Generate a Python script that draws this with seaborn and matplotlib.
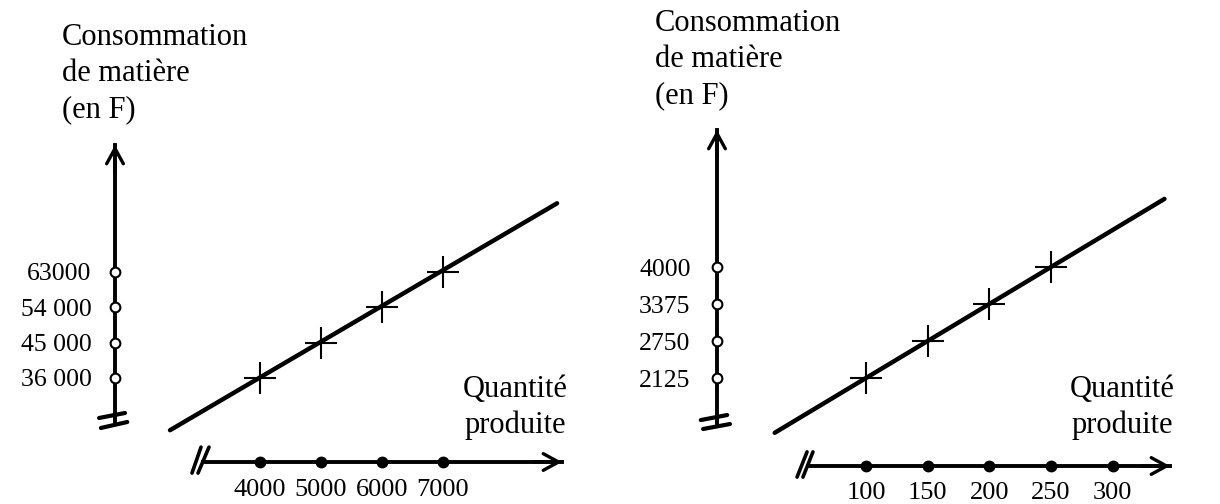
import matplotlib
matplotlib.use("Agg")
import matplotlib.pyplot as plt
import seaborn as sns

sns.set_theme(style="white")
plt.rcParams['font.family'] = ['Liberation Serif', 'DejaVu Serif']
plt.rcParams['text.color'] = 'black'

qty_1 = [4000, 5000, 6000, 7000]
cost_1 = [36000, 45000, 54000, 63000]
ylabels_1 = ["36 000", "45 000", "54 000", "63000"]
xlabels_1 = ["4000", "5000", "6000", "7000"]
trend_x_1 = [2525, 8870]
trend_y_1 = [22700, 80500]

qty_2 = [100, 150, 200, 250]
cost_2 = [2125, 2750, 3375, 4000]
xticks_2 = [100, 150, 200, 250, 300]
ylabels_2 = ["2125", "2750", "3375", "4000"]
xlabels_2 = ["100", "150", "200", "250", "300"]
trend_x_2 = [26, 342]
trend_y_2 = [1200, 5150]

W, H = 1220, 504
fig = plt.figure(figsize=(12.2, 5.04), dpi=100)


def px_axes(left, right, top, bottom):
    return fig.add_axes([left / W, (H - bottom) / H, (right - left) / W, (bottom - top) / H])


def draw_panel(ax, xt, xl, yt, yl, pts_x, pts_y, tx, ty, xlim, ylim,
               xbound, ybound, ybreak, xbreak, ypad, xpad):
    ax.set_xlim(xlim)
    ax.set_ylim(ylim)
    sns.lineplot(x=tx, y=ty, color="black", linewidth=3.2, ax=ax)
    sns.scatterplot(x=pts_x, y=pts_y, marker="+", s=560, color="black",
                    linewidth=1.5, ax=ax, zorder=5)

    for s in ["top", "right"]:
        ax.spines[s].set_visible(False)
    for s in ["left", "bottom"]:
        ax.spines[s].set_color("black")
        ax.spines[s].set_linewidth(2.8)
    ax.spines["left"].set_bounds(ybound, ylim[1])
    ax.spines["bottom"].set_bounds(xbound[0], xbound[1])

    ax.set_xticks(xt, xl)
    ax.set_yticks(yt, yl)
    ax.tick_params(axis="y", length=0, pad=ypad, labelsize=18.5, colors="black")
    ax.tick_params(axis="x", length=0, pad=xpad, labelsize=19, colors="black")

    # tick marks: open circles on y, dots on x
    ax.plot([0] * len(yt), yt, "o", ms=7, mfc="white", mec="black", mew=1.5,
            transform=ax.get_yaxis_transform(), clip_on=False, zorder=6)
    ax.plot(xt, [0] * len(xt), "o", ms=7.5, color="black",
            transform=ax.get_xaxis_transform(), clip_on=False, zorder=6)

    # arrows
    arrow = dict(arrowstyle="->,head_length=0.55,head_width=0.3", lw=2.4,
                 color="black", mutation_scale=20, shrinkA=0, shrinkB=0)
    ax.annotate("", xy=(0, ylim[1]), xycoords=ax.get_yaxis_transform(),
                xytext=(0, -20), textcoords="offset points",
                arrowprops=arrow, annotation_clip=False)
    ax.annotate("", xy=(xbound[1], 0), xycoords=ax.get_xaxis_transform(),
                xytext=(-20, 0), textcoords="offset points",
                arrowprops=arrow, annotation_clip=False)

    # axis break marks
    for (x0, x1), (y0, y1) in ybreak:
        ax.plot([x0, x1], [y0, y1], color="black", lw=3,
                transform=ax.get_yaxis_transform(), clip_on=False)
    for (x0, x1), (y0, y1) in xbreak:
        ax.plot([x0, x1], [y0, y1], color="black", lw=2.6,
                transform=ax.get_xaxis_transform(), clip_on=False)
    ax.set_xlabel("")
    ax.set_ylabel("")


ax1 = px_axes(115, 570, 145, 462)
draw_panel(ax1, qty_1, xlabels_1, cost_1, ylabels_1, qty_1, cost_1,
           trend_x_1, trend_y_1, (1623, 9082), (14600, 95350),
           (3070, 8951), 24500,
           [((-0.035, 0.022), (25810, 27085)), ((-0.031, 0.027), (23265, 24790))],
           [((2885, 3033), (-0.035, 0.047)), ((2984, 3164), (-0.035, 0.047))],
           17, 12.5)

ax2 = px_axes(717, 1180, 130, 466)
draw_panel(ax2, xticks_2, xlabels_2, cost_2, ylabels_2, qty_2, cost_2,
           trend_x_2, trend_y_2, (-20.8, 354.6), (639, 6314),
           (53, 346.5), 1348,
           [((-0.035, 0.022), (1415, 1500)), ((-0.03, 0.028), (1264, 1348))],
           [((44.1, 52.2), (-0.033, 0.042)), ((48.9, 57.0), (-0.033, 0.042))],
           19, 11.5)

ylab = "Consommation\nde matière\n(en F)"
xlab = "Quantité\nproduite"
fig.text(62 / W, 1 - 23 / H, ylab, fontsize=22, va="top", ha="left", linespacing=1.32)
fig.text(655 / W, 1 - 9 / H, ylab, fontsize=22, va="top", ha="left", linespacing=1.32)
fig.text(515 / W, 1 - 375 / H, xlab, fontsize=22, va="top", ha="center", linespacing=1.28)
fig.text(1122 / W, 1 - 375 / H, xlab, fontsize=22, va="top", ha="center", linespacing=1.28)

fig.savefig("out.png", dpi=100, facecolor="white")
